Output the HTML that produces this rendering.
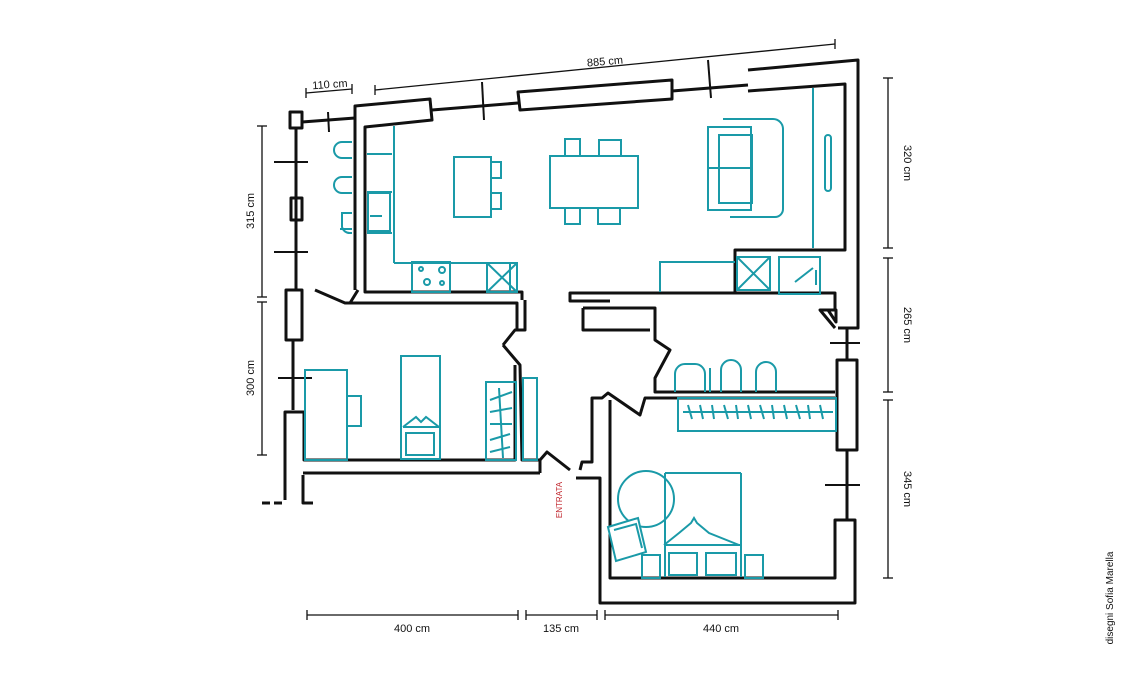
<!DOCTYPE html>
<html><head><meta charset="utf-8"><style>
html,body{margin:0;padding:0;background:#fff}
svg{display:block}
text{font-family:"Liberation Sans",sans-serif}
</style></head><body>
<svg width="1140" height="680" viewBox="0 0 1140 680" xmlns="http://www.w3.org/2000/svg">
<g fill="none" stroke="#111" stroke-width="3" stroke-linejoin="round">
<polyline points="355,290 355,106 430,99 432,120 365,127 365,292 522,292 522,300"/>
<polyline points="432,110 518,103"/>
<polygon points="518,92 672,80 672,99 520,110"/>
<polyline points="672,91 748,85"/>
<polyline points="748,70 858,60 858,328 838,328"/>
<polyline points="748,91 845,84 845,250 735,250 735,293 570,293 570,301 610,301"/>
<rect x="290" y="112" width="12" height="16"/>
<line x1="302" y1="122" x2="355" y2="118"/>
<line x1="296" y1="128" x2="296" y2="290"/>
<rect x="291" y="198" width="11" height="22"/>
<rect x="286" y="290" width="16" height="50"/>
<line x1="293" y1="340" x2="293" y2="410"/>
<polyline points="285,500 285,412 304,412 304,460 515,460 515,365"/>
<polyline points="315,290 345,303 350,303 358,290"/>
<polyline points="350,303 517,303 517,330"/>
<polyline points="503,345 515,330 525,330 525,300"/>
<polyline points="503,345 520,365 522,460 540,460 547,452 570,470"/>
<polyline points="303,475 303,503 313,503"/>
<path d="M262,503 H270 M274,503 H282"/>
<line x1="303" y1="473" x2="540" y2="473"/>
<line x1="540" y1="460" x2="540" y2="473"/>
<polyline points="580,470 582,462 592,462 592,398 602,398 608,393 640,415 645,398 835,398"/>
<polyline points="576,478 600,478 600,603 855,603 855,520 835,520 835,578 610,578 610,400"/>
<polyline points="583,308 655,308 655,340 670,350 655,378 655,392 835,392"/>
<polyline points="583,308 583,330 650,330"/>
<polyline points="735,293 835,293 835,310 820,310 835,328"/>
<rect x="837" y="360" width="20" height="90"/>
<line x1="847" y1="328" x2="847" y2="360"/>
<line x1="847" y1="450" x2="847" y2="520"/>
<polygon points="828,310 836,310 836,322"/>
</g>
<g stroke="#111" stroke-width="2">
<line x1="328" y1="112" x2="329" y2="132"/>
<line x1="482" y1="82" x2="484" y2="120"/>
<line x1="708" y1="60" x2="711" y2="98"/>
<line x1="274" y1="162" x2="308" y2="162"/>
<line x1="274" y1="252" x2="308" y2="252"/>
<line x1="278" y1="378" x2="312" y2="378"/>
<line x1="830" y1="343" x2="860" y2="343"/>
<line x1="825" y1="485" x2="860" y2="485"/>
</g>
<g stroke="#111" stroke-width="1.3" fill="none">
<line x1="375" y1="90" x2="835" y2="44"/><line x1="375" y1="85" x2="375" y2="95"/><line x1="835" y1="39" x2="835" y2="49"/>
<line x1="306" y1="93" x2="352" y2="89"/><line x1="306" y1="88" x2="306" y2="98"/><line x1="352" y1="84" x2="352" y2="94"/>
<line x1="888" y1="78" x2="888" y2="248"/><line x1="883" y1="78" x2="893" y2="78"/><line x1="883" y1="248" x2="893" y2="248"/>
<line x1="888" y1="258" x2="888" y2="392"/><line x1="883" y1="258" x2="893" y2="258"/><line x1="883" y1="392" x2="893" y2="392"/>
<line x1="888" y1="400" x2="888" y2="578"/><line x1="883" y1="400" x2="893" y2="400"/><line x1="883" y1="578" x2="893" y2="578"/>
<line x1="262" y1="126" x2="262" y2="297"/><line x1="257" y1="126" x2="267" y2="126"/><line x1="257" y1="297" x2="267" y2="297"/>
<line x1="262" y1="302" x2="262" y2="455"/><line x1="257" y1="302" x2="267" y2="302"/><line x1="257" y1="455" x2="267" y2="455"/>
<line x1="307" y1="615" x2="518" y2="615"/><line x1="307" y1="610" x2="307" y2="620"/><line x1="518" y1="610" x2="518" y2="620"/>
<line x1="526" y1="615" x2="597" y2="615"/><line x1="526" y1="610" x2="526" y2="620"/><line x1="597" y1="610" x2="597" y2="620"/>
<line x1="605" y1="615" x2="838" y2="615"/><line x1="605" y1="610" x2="605" y2="620"/><line x1="838" y1="610" x2="838" y2="620"/>
</g>
<g font-size="11" fill="#111">
<text x="605" y="65" text-anchor="middle" transform="rotate(-5 605 62)">885 cm</text>
<text x="330" y="88" text-anchor="middle" transform="rotate(-4 330 86)">110 cm</text>
<text x="412" y="632" text-anchor="middle">400 cm</text>
<text x="561" y="632" text-anchor="middle">135 cm</text>
<text x="721" y="632" text-anchor="middle">440 cm</text>
<text transform="translate(904,163) rotate(90)" text-anchor="middle">320 cm</text>
<text transform="translate(904,325) rotate(90)" text-anchor="middle">265 cm</text>
<text transform="translate(904,489) rotate(90)" text-anchor="middle">345 cm</text>
<text transform="translate(254,211) rotate(-90)" text-anchor="middle">315 cm</text>
<text transform="translate(254,378) rotate(-90)" text-anchor="middle">300 cm</text>
<text transform="translate(1113,598) rotate(-90)" text-anchor="middle" font-size="10">disegni Sofia Marella</text>
</g>
<text transform="translate(562,500) rotate(-90)" text-anchor="middle" font-size="8" fill="#c0262d">ENTRATA</text>
<g fill="none" stroke="#1a9aa8" stroke-width="2">
<path d="M352,142 h-10 a8,8 0 0 0 0,16 h10 M352,177 h-10 a8,8 0 0 0 0,16 h10 M352,213 h-10 v14 a8,8 0 0 0 8,6 h2"/>
<line x1="340" y1="229" x2="352" y2="229"/>
<path d="M367,154 H392 M394,126 V263 M367,192 H392 M394,263 H510 V293 M367,233 H392"/>
<rect x="368" y="193" width="22" height="38"/>
<line x1="370" y1="216" x2="382" y2="216"/>
<rect x="412" y="262" width="38" height="30"/>
<circle cx="421" cy="269" r="2"/><circle cx="427" cy="282" r="3"/><circle cx="442" cy="270" r="3"/><circle cx="442" cy="283" r="2"/>
<rect x="487" y="263" width="30" height="29"/><path d="M487,263 L517,292 M517,263 L487,292"/>
<rect x="454" y="157" width="37" height="60"/>
<rect x="491" y="162" width="10" height="16"/><rect x="491" y="193" width="10" height="16"/>
<rect x="550" y="156" width="88" height="52"/>
<rect x="565" y="139" width="15" height="17"/><rect x="599" y="140" width="22" height="16"/>
<rect x="565" y="208" width="15" height="16"/><rect x="598" y="208" width="22" height="16"/>
<rect x="708" y="127" width="43" height="83"/>
<rect x="719" y="135" width="33" height="68"/>
<path d="M723,119 h50 a10,10 0 0 1 10,10 v80 a8,8 0 0 1 -8,8 h-45"/>
<line x1="708" y1="168" x2="752" y2="168"/>
<rect x="825" y="135" width="6" height="56" rx="3"/>
<line x1="813" y1="88" x2="813" y2="248"/>
<polyline points="660,292 660,262 735,262"/>
<rect x="737" y="257" width="33" height="33"/><path d="M737,257 L770,290 M770,257 L737,290"/>
<rect x="779" y="257" width="41" height="37"/><line x1="795" y1="282" x2="813" y2="268"/><line x1="816" y1="270" x2="816" y2="285"/>
<rect x="305" y="370" width="42" height="90"/>
<rect x="347" y="396" width="14" height="30"/>
<rect x="401" y="356" width="39" height="103"/>
<path d="M403,427 l13,-10 l5,5 l5,-5 l13,10 M403,427 h36"/>
<rect x="406" y="433" width="28" height="22"/>
<rect x="486" y="382" width="30" height="78"/>
<path d="M490,400 l22,-8 M490,412 l22,-4 M490,424 l22,0 M490,440 l20,-6 M490,452 l20,-5 M499,388 l4,70"/>
<rect x="523" y="378" width="14" height="82"/>
<path d="M675,392 v-18 a10,10 0 0 1 10,-10 h10 a10,10 0 0 1 10,10 v18"/>
<line x1="710" y1="368" x2="710" y2="392"/>
<path d="M721,392 v-22 a10,10 0 0 1 20,0 v22 M756,392 v-20 a10,10 0 0 1 20,0 v20"/>
<rect x="678" y="398" width="158" height="33"/>
<path d="M683,412 H833 M688,405 l4,14 M700,405 l3,14 M712,405 l2,14 M724,405 l4,14 M736,405 l2,14 M748,405 l3,14 M760,405 l4,14 M772,405 l2,14 M784,405 l3,14 M796,405 l4,14 M808,405 l2,14 M820,405 l3,14"/>
<circle cx="646" cy="499" r="28"/>
<polygon points="608,527 638,518 646,552 616,561" fill="#fff"/>
<polyline points="614,530 636,524 642,548"/>
<line x1="665" y1="473" x2="665" y2="577"/><line x1="741" y1="473" x2="741" y2="577"/><line x1="665" y1="473" x2="741" y2="473"/>
<path d="M664,545 l15,-12 l12,-10 l3,-5 l3,5 l12,10 l30,12 M664,545 h76"/>
<rect x="669" y="553" width="28" height="22"/><rect x="706" y="553" width="30" height="22"/>
<rect x="642" y="555" width="18" height="23"/><rect x="745" y="555" width="18" height="23"/>
</g>
</svg>
</body></html>
